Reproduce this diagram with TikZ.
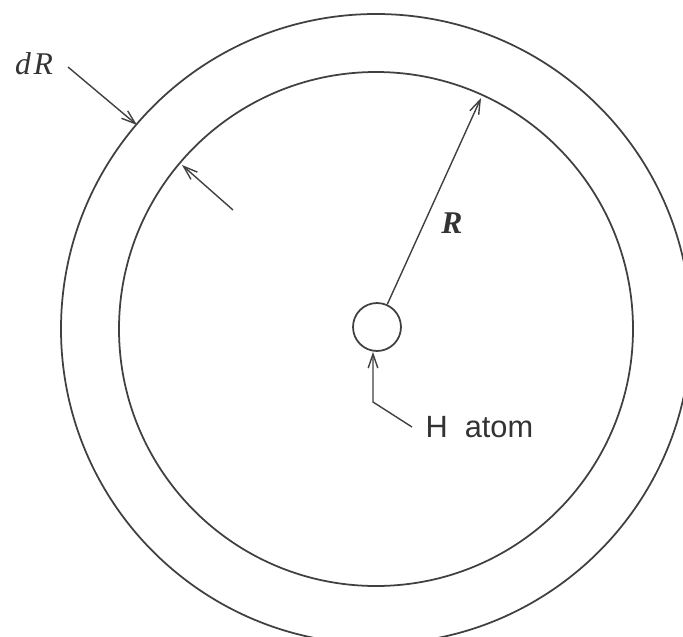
\documentclass[tikz,border=0pt]{standalone}
\usepackage{fontspec}
\setmainfont{Liberation Serif}
\setsansfont{Liberation Sans}
\usetikzlibrary{arrows.meta,positioning,calc}

\begin{document}
\begin{tikzpicture}[
    x=0.02cm, y=-0.02cm,
    ring/.style={draw=black!75, line width=1pt},
    ptr/.style={-{Straight Barb[length=8pt,width=5.5pt]}, draw=black!75, line width=0.8pt},
    sym/.style={inner sep=0pt, text=black!80, font=\fontsize{17}{20}\selectfont},
]
\useasboundingbox (0,0) rectangle (683,636);
\clip (0,0) rectangle (683,636);

% Shells
\coordinate (c) at (376,329);
\draw[ring] (c) circle[radius=315];
\draw[ring] (c) circle[radius=257];

% Atom
\node[circle, draw=black!75, line width=1pt, minimum size=0.96cm, inner sep=0pt] (atom) at (377,327) {};

% Radius
\coordinate (rtip) at (481,98);
\draw[ptr] (atom) -- (rtip);
\node[sym, font=\fontsize{18}{20}\selectfont\bfseries\itshape] (rlabel) at (452,223) {R};

% Shell thickness
\node[sym, font=\fontsize{18}{20}\selectfont\itshape] (drlabel) at (34,64) {d\kern1.5pt R};
\coordinate (outtail) at (68,67);
\coordinate (outtip) at (137,125);
\draw[ptr] (outtail) -- (outtip);
\coordinate (intail) at (233,210);
\coordinate (intip) at (182,165);
\draw[ptr] (intail) -- (intip);

% H atom label
\node[sym, anchor=west, inner xsep=7.5pt, font=\fontsize{17.5}{20}\selectfont\sffamily] (hlabel) at (412,427) {H\ \ atom};
\coordinate (bend) at (373,402);
\draw[ptr] (hlabel.west) -- (bend) -- (bend |- atom.south);
\end{tikzpicture}
\end{document}
